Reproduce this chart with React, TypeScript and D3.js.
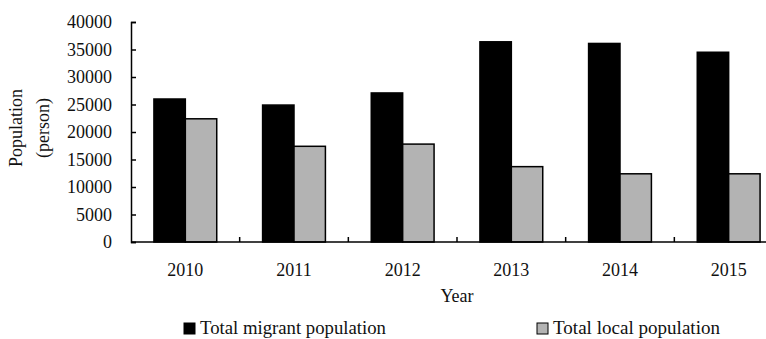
import * as d3 from "d3";
import { useEffect, useRef } from "react";

const years = ["2010", "2011", "2012", "2013", "2014", "2015"];
const migrant = [26000, 24900, 27100, 36400, 36100, 34500];
const local = [22400, 17400, 17800, 13700, 12400, 12400];
const seriesNames = ["Total migrant population", "Total local population"];
const seriesColors = ["#000000", "#b3b3b3"];
const yTicks = [0, 5000, 10000, 15000, 20000, 25000, 30000, 35000, 40000];

const W = 766;
const H = 339;
const FONT = "'Liberation Serif', 'Times New Roman', serif";

export default function App() {
  const svgRef = useRef<SVGSVGElement>(null);

  useEffect(() => {
    const svg = d3.select(svgRef.current);
    svg.selectAll("*").remove();

    // plot area; right side runs past the picture edge like the original
    const x0 = 131;
    const x1 = 783;
    const yTop = 22;
    const yBottom = 242;

    const x = d3.scaleBand().domain(years).range([x0, x1]).padding(0);
    const xs = d3
      .scaleBand()
      .domain(seriesNames)
      .range([0, x.bandwidth()])
      .paddingInner(0)
      .paddingOuter(0.73);
    const y = d3.scaleLinear().domain([0, 40000]).range([yBottom, yTop]);

    const rows = years.map((yr, i) => ({ year: yr, values: [migrant[i], local[i]] }));

    const g = svg.append("g");
    g.selectAll("g.year")
      .data(rows)
      .join("g")
      .attr("class", "year")
      .attr("transform", (d) => `translate(${x(d.year)},0)`)
      .selectAll("rect")
      .data((d) => d.values.map((v, k) => ({ v, k })))
      .join("rect")
      .attr("x", (d) => xs(seriesNames[d.k])!)
      .attr("y", (d) => y(d.v))
      .attr("width", xs.bandwidth())
      .attr("height", (d) => yBottom - y(d.v))
      .attr("fill", (d) => seriesColors[d.k])
      .attr("stroke", "#000")
      .attr("stroke-width", 1.5);

    // y axis, ticks pointing inward
    const yAxis = d3
      .axisLeft(y)
      .tickValues(yTicks)
      .tickSizeInner(-5)
      .tickSizeOuter(-5)
      .tickPadding(19)
      .tickFormat((d) => String(d));
    const ya = svg.append("g").attr("transform", `translate(${x0},0)`).call(yAxis);
    ya.selectAll("path, line").attr("stroke", "#000").attr("stroke-width", 1.5);
    ya.selectAll("text")
      .attr("font-family", FONT)
      .attr("font-size", 18)
      .attr("fill", "#111");

    // x axis baseline with small upward ticks between categories
    svg
      .append("line")
      .attr("x1", x0)
      .attr("x2", x1)
      .attr("y1", yBottom)
      .attr("y2", yBottom)
      .attr("stroke", "#000")
      .attr("stroke-width", 1.5);
    svg
      .append("g")
      .selectAll("line")
      .data(years.slice(1))
      .join("line")
      .attr("x1", (d) => x(d)!)
      .attr("x2", (d) => x(d)!)
      .attr("y1", yBottom)
      .attr("y2", yBottom - 5)
      .attr("stroke", "#000")
      .attr("stroke-width", 1.5);
    svg
      .append("g")
      .selectAll("text")
      .data(years)
      .join("text")
      .attr("x", (d) => x(d)! + x.bandwidth() / 2)
      .attr("y", 276)
      .attr("text-anchor", "middle")
      .attr("font-family", FONT)
      .attr("font-size", 18)
      .attr("fill", "#111")
      .text((d) => d);

    svg
      .append("text")
      .attr("x", (x0 + x1) / 2)
      .attr("y", 302)
      .attr("text-anchor", "middle")
      .attr("font-family", FONT)
      .attr("font-size", 18)
      .attr("fill", "#111")
      .text("Year");

    // y label in two lines
    const yl = svg
      .append("text")
      .attr("transform", "translate(0,128) rotate(-90)")
      .attr("text-anchor", "middle")
      .attr("font-family", FONT)
      .attr("font-size", 18)
      .attr("fill", "#111");
    yl.append("tspan").attr("x", 0).attr("y", 22).text("Population");
    yl.append("tspan").attr("x", 0).attr("y", 49).text("(person)");

    // legend (text slightly stretched like the source)
    const legendX = [184, 537];
    const legendLen = [186, 167];
    const lg = svg
      .append("g")
      .selectAll("g")
      .data(seriesNames)
      .join("g")
      .attr("transform", (_, i) => `translate(${legendX[i]},323)`);
    lg.append("rect")
      .attr("width", 11)
      .attr("height", 11)
      .attr("fill", (_, i) => seriesColors[i])
      .attr("stroke", "#000")
      .attr("stroke-width", 1);
    lg.append("text")
      .attr("x", 16)
      .attr("y", 11)
      .attr("font-family", FONT)
      .attr("font-size", 18)
      .attr("fill", "#111")
      .attr("textLength", (_, i) => legendLen[i])
      .attr("lengthAdjust", "spacingAndGlyphs")
      .text((d) => d);
  }, []);

  return (
    <div style={{ position: "absolute", left: 0, top: 0, width: W, height: H, background: "#fff" }}>
      <svg ref={svgRef} width={W} height={H} style={{ display: "block" }} />
    </div>
  );
}
